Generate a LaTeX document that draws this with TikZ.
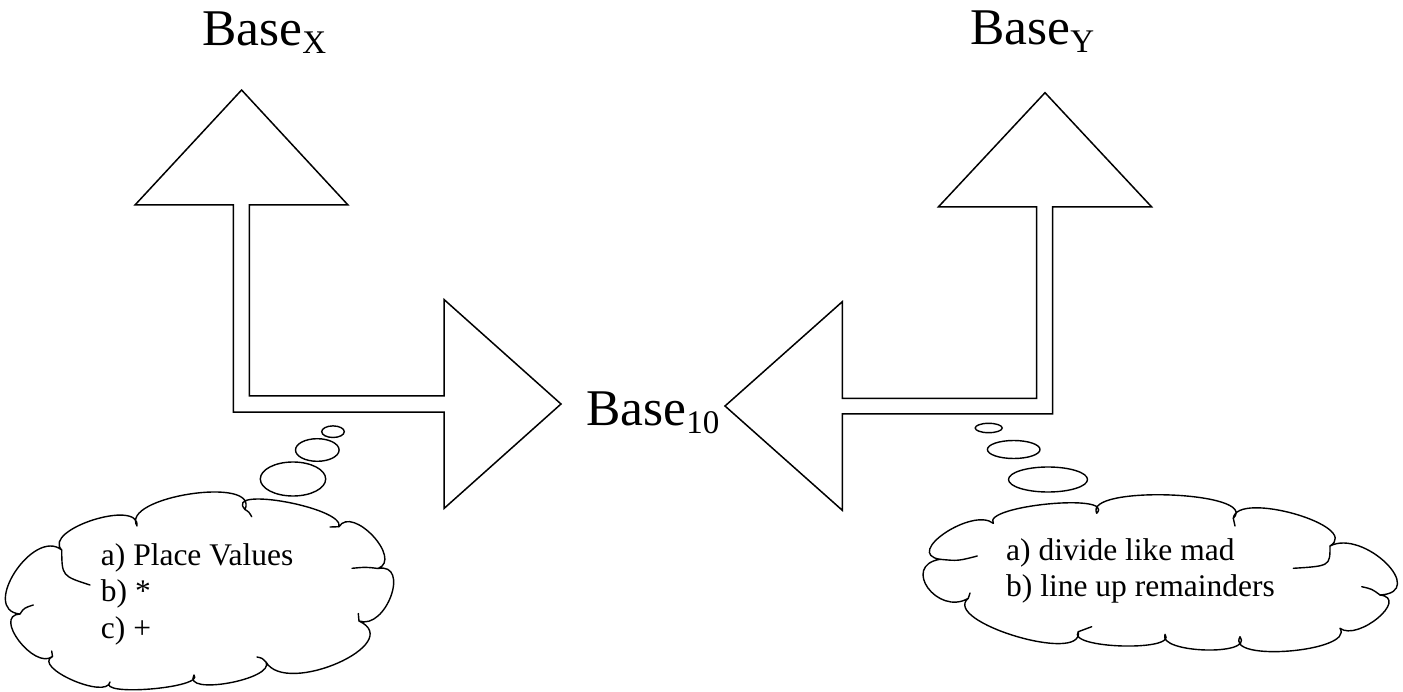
\documentclass[tikz,border=0pt]{standalone}
\usepackage{fontspec}
\setmainfont{Liberation Serif}
\usetikzlibrary{calc}
% one cloud puff: from #1 bulging through #2 to #3
\newcommand\bmp[3]{.. controls ($0.4833*(#1)-0.8167*(#3)+1.3333*(#2)$) and ($0.4833*(#3)-0.8167*(#1)+1.3333*(#2)$) .. (#3)}
\tikzset{
  outline/.style={draw=black, line width=1.5pt, line join=miter},
  cloudline/.style={draw=black, line width=1.4pt, line cap=round, line join=round},
  bubble/.style={draw=black, line width=1.4pt},
  lbl/.style={inner sep=0pt, anchor=base west},
  bigfont/.style={font=\fontsize{51.5}{60}\selectfont},
  txtfont/.style={font=\fontsize{31.5}{36}\selectfont},
}
\newcommand\subtxt[1]{\fontsize{33}{40}\selectfont\raisebox{-8pt}{#1}}
\begin{document}
\begin{tikzpicture}[x=1pt,y=-1pt]
\useasboundingbox (0,0) rectangle (1403,692);
\fill[white] (0,0) rectangle (1403,692);

% ---------- block arrows ----------
\draw[outline] (241.6,90) -- (348,205) -- (249.3,205) -- (249.3,395.8) -- (444,395.8)
  -- (444,299.5) -- (561,404) -- (444,508.5) -- (444,412.2) -- (233.3,412.2)
  -- (233.3,205) -- (135,205) -- cycle;
\draw[outline] (1045,92.7) -- (1151.7,207) -- (1052.7,207) -- (1052.7,414) -- (842.3,414)
  -- (842.3,510.3) -- (725,406) -- (842.3,301.7) -- (842.3,398.3) -- (1036.7,398.3)
  -- (1036.7,207) -- (938.3,207) -- cycle;

% ---------- labels ----------
\node[lbl, bigfont] (bx) at (202,45.7) {Base\subtxt{X}};
\node[lbl, bigfont] (by) at (970,45) {Base\subtxt{Y}};
\node[lbl, bigfont] (b10) at (586,425) {Base\subtxt{10}};

% ---------- thought bubbles ----------
\draw[bubble] (333,431.7) ellipse [x radius=11.3pt, y radius=5.8pt];
\draw[bubble] (317.3,450) ellipse [x radius=21.8pt, y radius=11.3pt];
\draw[bubble] (293,479) ellipse [x radius=32.7pt, y radius=17pt];
\draw[bubble] (988.7,428) ellipse [x radius=13.5pt, y radius=4.7pt];
\draw[bubble] (1013.7,449.5) ellipse [x radius=26.3pt, y radius=9pt];
\draw[bubble] (1048,479.5) ellipse [x radius=39.5pt, y radius=12.5pt];

% ---------- left cloud ----------
\coordinate (LJj) at (20,614);
\coordinate (LJk) at (61.7,550);
\coordinate (LJa) at (137,526);
\coordinate (LJb) at (245,509.5);
\coordinate (LJc) at (339,526.7);
\coordinate (LJd) at (378,568.5);
\coordinate (LJe) at (359,621);
\coordinate (LJf) at (266,662);
\coordinate (LJg) at (194,675);
\coordinate (LJh) at (110,682);
\coordinate (LJi) at (52.5,656.5);
\coordinate (LPleft) at (15,572);
\coordinate (LPul) at (93,520);
\coordinate (LPtop) at (190,494);
\coordinate (LPtr) at (286,502);
\coordinate (LPru) at (373,536);
\coordinate (LPr) at (391,596);
\coordinate (LPlr) at (338,663);
\coordinate (LPbr) at (229,683);
\coordinate (LPbm) at (151,689);
\coordinate (LPbl) at (72,680);
\coordinate (LPll) at (19,641);
\draw[cloudline] (LJj) \bmp{LJj}{LPleft}{LJk} \bmp{LJk}{LPul}{LJa} \bmp{LJa}{LPtop}{LJb}
  \bmp{LJb}{LPtr}{LJc} \bmp{LJc}{LPru}{LJd} \bmp{LJd}{LPr}{LJe} \bmp{LJe}{LPlr}{LJf}
  \bmp{LJf}{LPbr}{LJg} \bmp{LJg}{LPbm}{LJh} \bmp{LJh}{LPbl}{LJi} \bmp{LJi}{LPll}{LJj} -- cycle;
\draw[cloudline] (LJk) .. controls (62,576) .. (90,585);
\draw[cloudline] (LJj) .. controls (24,608) .. (33.3,605);
\draw[cloudline] (LJb) .. controls (249,512) .. (251.7,516.7);
\draw[cloudline] (LJc) .. controls (334,526) .. (330,527);
\draw[cloudline] (LJd) .. controls (366,567) .. (352,568.3);
\draw[cloudline] (LJe) .. controls (358,617) .. (358.3,613.5);
\draw[cloudline] (LJf) .. controls (262,658) .. (257,657);
\draw[cloudline] (LJi) .. controls (52,654) .. (51.7,651);
\node[lbl, txtfont] (la) at (100.7,565) {a) Place Values};
\node[lbl, txtfont] (lb) at (100.7,601.5) {b) *};
\node[lbl, txtfont] (lc) at (100.7,638) {c) +};

% ---------- right cloud ----------
\coordinate (RJ1) at (940,559.3);
\coordinate (RJ2) at (993.3,523.3);
\coordinate (RJ3) at (1096.7,513.3);
\coordinate (RJ4) at (1233.3,518.3);
\coordinate (RJ5) at (1330,546);
\coordinate (RJ6) at (1380,595);
\coordinate (RJ7) at (1340,628.3);
\coordinate (RJ8) at (1240,636.7);
\coordinate (RJ9) at (1165,634.3);
\coordinate (RJ10) at (1078.3,631.7);
\coordinate (RJ11) at (968.3,598.3);
\coordinate (RPul) at (945,533);
\coordinate (RPtl) at (1048,504);
\coordinate (RPt) at (1170,495);
\coordinate (RPtr) at (1295,514);
\coordinate (RPr) at (1386,563);
\coordinate (RPlr) at (1378,618);
\coordinate (RPbr) at (1290,651);
\coordinate (RPbm) at (1205,650);
\coordinate (RPbl) at (1122,646);
\coordinate (RPll) at (1015,636);
\coordinate (RPl) at (928,588);
\draw[cloudline] (RJ1) \bmp{RJ1}{RPul}{RJ2} \bmp{RJ2}{RPtl}{RJ3} \bmp{RJ3}{RPt}{RJ4}
  \bmp{RJ4}{RPtr}{RJ5} \bmp{RJ5}{RPr}{RJ6} \bmp{RJ6}{RPlr}{RJ7} \bmp{RJ7}{RPbr}{RJ8}
  \bmp{RJ8}{RPbm}{RJ9} \bmp{RJ9}{RPbl}{RJ10} \bmp{RJ10}{RPll}{RJ11} \bmp{RJ11}{RPl}{RJ1} -- cycle;
\draw[cloudline] (RJ1) .. controls (958,561) .. (977.3,556);
\draw[cloudline] (RJ4) .. controls (1234,522) .. (1235,526);
\draw[cloudline] (RJ5) .. controls (1330,566) .. (1293.3,568.3);
\draw[cloudline] (RJ6) .. controls (1372,589) .. (1361.7,586.7);
\draw[cloudline] (RJ10) .. controls (1085,630) .. (1091.7,626.7);
\draw[cloudline] (RJ11) .. controls (969,596) .. (970,593);
\node[lbl, txtfont] (ra) at (1006,560.5) {a) divide like mad};
\node[lbl, txtfont] (rb) at (1006,596) {b) line up remainders};
\end{tikzpicture}
\end{document}
